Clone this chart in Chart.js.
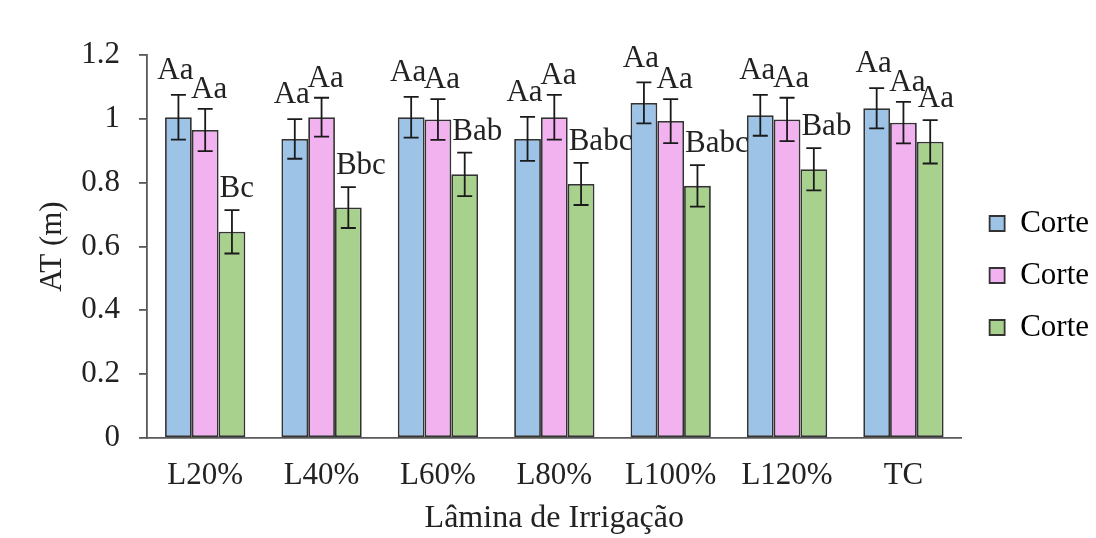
<!DOCTYPE html>
<html>
<head>
<meta charset="utf-8">
<script src="https://cdn.jsdelivr.net/npm/chart.js@4"></script>
<style>
  html, body { margin: 0; padding: 0; background: #ffffff; }
  #wrap { width: 1096px; height: 538px; }
</style>
</head>
<body>
<div id="wrap"><canvas id="c" width="1096" height="538"></canvas></div>
<script>
// Irrigation depth treatments
const categories = ['L20%', 'L40%', 'L60%', 'L80%', 'L100%', 'L120%', 'TC'];
const seriesNames = ['Corte', 'Corte', 'Corte'];

// Plant height AT (m), mean per cut
const corte1 = [1.005, 0.937, 1.005, 0.937, 1.050, 1.011, 1.033];
const corte2 = [0.965, 1.005, 0.998, 1.005, 0.993, 0.998, 0.988];
const corte3 = [0.646, 0.722, 0.826, 0.796, 0.790, 0.842, 0.928];

// Standard deviation (error bars)
const err1 = [0.070, 0.062, 0.064, 0.069, 0.064, 0.064, 0.063];
const err2 = [0.066, 0.061, 0.064, 0.070, 0.069, 0.068, 0.065];
const err3 = [0.068, 0.064, 0.068, 0.066, 0.065, 0.066, 0.068];

// Letters from the mean comparison test
const letters1 = ['Aa', 'Aa', 'Aa', 'Aa', 'Aa', 'Aa', 'Aa'];
const letters2 = ['Aa', 'Aa', 'Aa', 'Aa', 'Aa', 'Aa', 'Aa'];
const letters3 = ['Bc', 'Bbc', 'Bab', 'Babc', 'Babc', 'Bab', 'Aa'];

// Y axis ticks
const yTicks = [0, 0.2, 0.4, 0.6, 0.8, 1, 1.2];

const FONT = "'Liberation Serif', 'Times New Roman', serif";
const FS = 31;
const TEXT = '#222222';
const AXIS = '#595959';
const EDGE = '#333333';

const errs = [err1, err2, err3];
const letters = [letters1, letters2, letters3];
// Letter placement per series: alignment, horizontal nudge, lift above the error cap
const letterStyle = [
  { align: 'center', dx: -3, lift: 24 },
  { align: 'center', dx: 4, lift: 19 },
  { align: 'left', dx: 1, lift: 21 }
];

const errorBars = {
  id: 'errorBars',
  afterDatasetsDraw(chart) {
    const ctx = chart.ctx;
    const y = chart.scales.y;
    ctx.save();
    ctx.strokeStyle = '#1a1a1a';
    ctx.lineWidth = 1.8;
    chart.data.datasets.forEach((ds, di) => {
      const meta = chart.getDatasetMeta(di);
      meta.data.forEach((bar, i) => {
        const v = ds.data[i], e = errs[di][i];
        const yt = y.getPixelForValue(v + e);
        const yb = y.getPixelForValue(v - e);
        const x = bar.x, cw = 7.5;
        ctx.beginPath();
        ctx.moveTo(x, yt); ctx.lineTo(x, yb);
        ctx.moveTo(x - cw, yt); ctx.lineTo(x + cw, yt);
        ctx.moveTo(x - cw, yb); ctx.lineTo(x + cw, yb);
        ctx.stroke();
      });
    });
    ctx.restore();
  }
};

const letterLabels = {
  id: 'letterLabels',
  afterDatasetsDraw(chart) {
    const ctx = chart.ctx;
    const y = chart.scales.y;
    ctx.save();
    ctx.fillStyle = TEXT;
    ctx.font = FS + 'px ' + FONT;
    ctx.textBaseline = 'middle';
    chart.data.datasets.forEach((ds, di) => {
      const meta = chart.getDatasetMeta(di);
      const st = letterStyle[di];
      meta.data.forEach((bar, i) => {
        const v = ds.data[i], e = errs[di][i];
        const yt = y.getPixelForValue(v + e) - st.lift;
        let x;
        if (st.align === 'left') {
          ctx.textAlign = 'left';
          x = bar.x - bar.width / 2 + st.dx;
        } else {
          ctx.textAlign = 'center';
          x = bar.x + st.dx;
        }
        ctx.fillText(letters[di][i], x, yt);
      });
    });
    ctx.restore();
  }
};

// Moves the legend column slightly up and to the right of its default slot
const legendShift = {
  id: 'legendShift',
  afterLayout(chart) {
    const lg = chart.legend;
    if (!lg) return;
    lg.top -= 42;
    lg.left += 7;
    lg.right += 7;
  }
};

const colors = ['#9dc3e6', '#f2b1ef', '#a9d18e'];
const seriesData = [corte1, corte2, corte3];

new Chart(document.getElementById('c'), {
  type: 'bar',
  data: {
    labels: categories,
    datasets: seriesData.map((d, k) => ({
      label: seriesNames[k],
      data: d,
      backgroundColor: colors[k],
      borderColor: EDGE,
      borderWidth: 1.8,
      borderSkipped: false,
      categoryPercentage: 0.69,
      barPercentage: 1.0
    }))
  },
  options: {
    responsive: false,
    animation: false,
    events: [],
    layout: { padding: { top: 55, right: 4, bottom: 0, left: 0 } },
    plugins: {
      tooltip: { enabled: false },
      legend: {
        position: 'right',
        labels: {
          boxWidth: 15,
          boxHeight: 15,
          padding: 21,
          color: TEXT,
          font: { family: FONT, size: FS },
          generateLabels(chart) {
            return chart.data.datasets.map((ds, i) => ({
              text: ds.label,
              fillStyle: ds.backgroundColor,
              strokeStyle: '#333333',
              lineWidth: 1.8,
              datasetIndex: i,
              hidden: false
            }));
          }
        }
      }
    },
    scales: {
      x: {
        grid: { display: false },
        border: { display: true, color: AXIS, width: 1.8 },
        ticks: { color: TEXT, font: { family: FONT, size: FS }, padding: 11, maxRotation: 0 },
        title: {
          display: true, text: 'Lâmina de Irrigação', color: TEXT,
          font: { family: FONT, size: 32 }, padding: { top: 0, bottom: 0 }
        },
        afterFit(s) { s.height = 100; }
      },
      y: {
        min: 0, max: 1.2,
        afterBuildTicks(s) { s.ticks = yTicks.map(v => ({ value: v })); },
        grid: { drawOnChartArea: false, drawTicks: true, tickLength: 8, color: AXIS, lineWidth: 1.8 },
        border: { display: true, color: AXIS, width: 1.8 },
        ticks: {
          color: TEXT, font: { family: FONT, size: FS }, padding: 19,
          callback: v => String(+Number(v).toFixed(1))
        },
        title: {
          display: true, text: 'AT (m)', color: TEXT,
          font: { family: FONT, size: FS }, padding: { top: 34, bottom: 0 }
        },
        afterFit(s) { s.width = 147; }
      }
    }
  },
  plugins: [errorBars, letterLabels, legendShift]
});
</script>
</body>
</html>
